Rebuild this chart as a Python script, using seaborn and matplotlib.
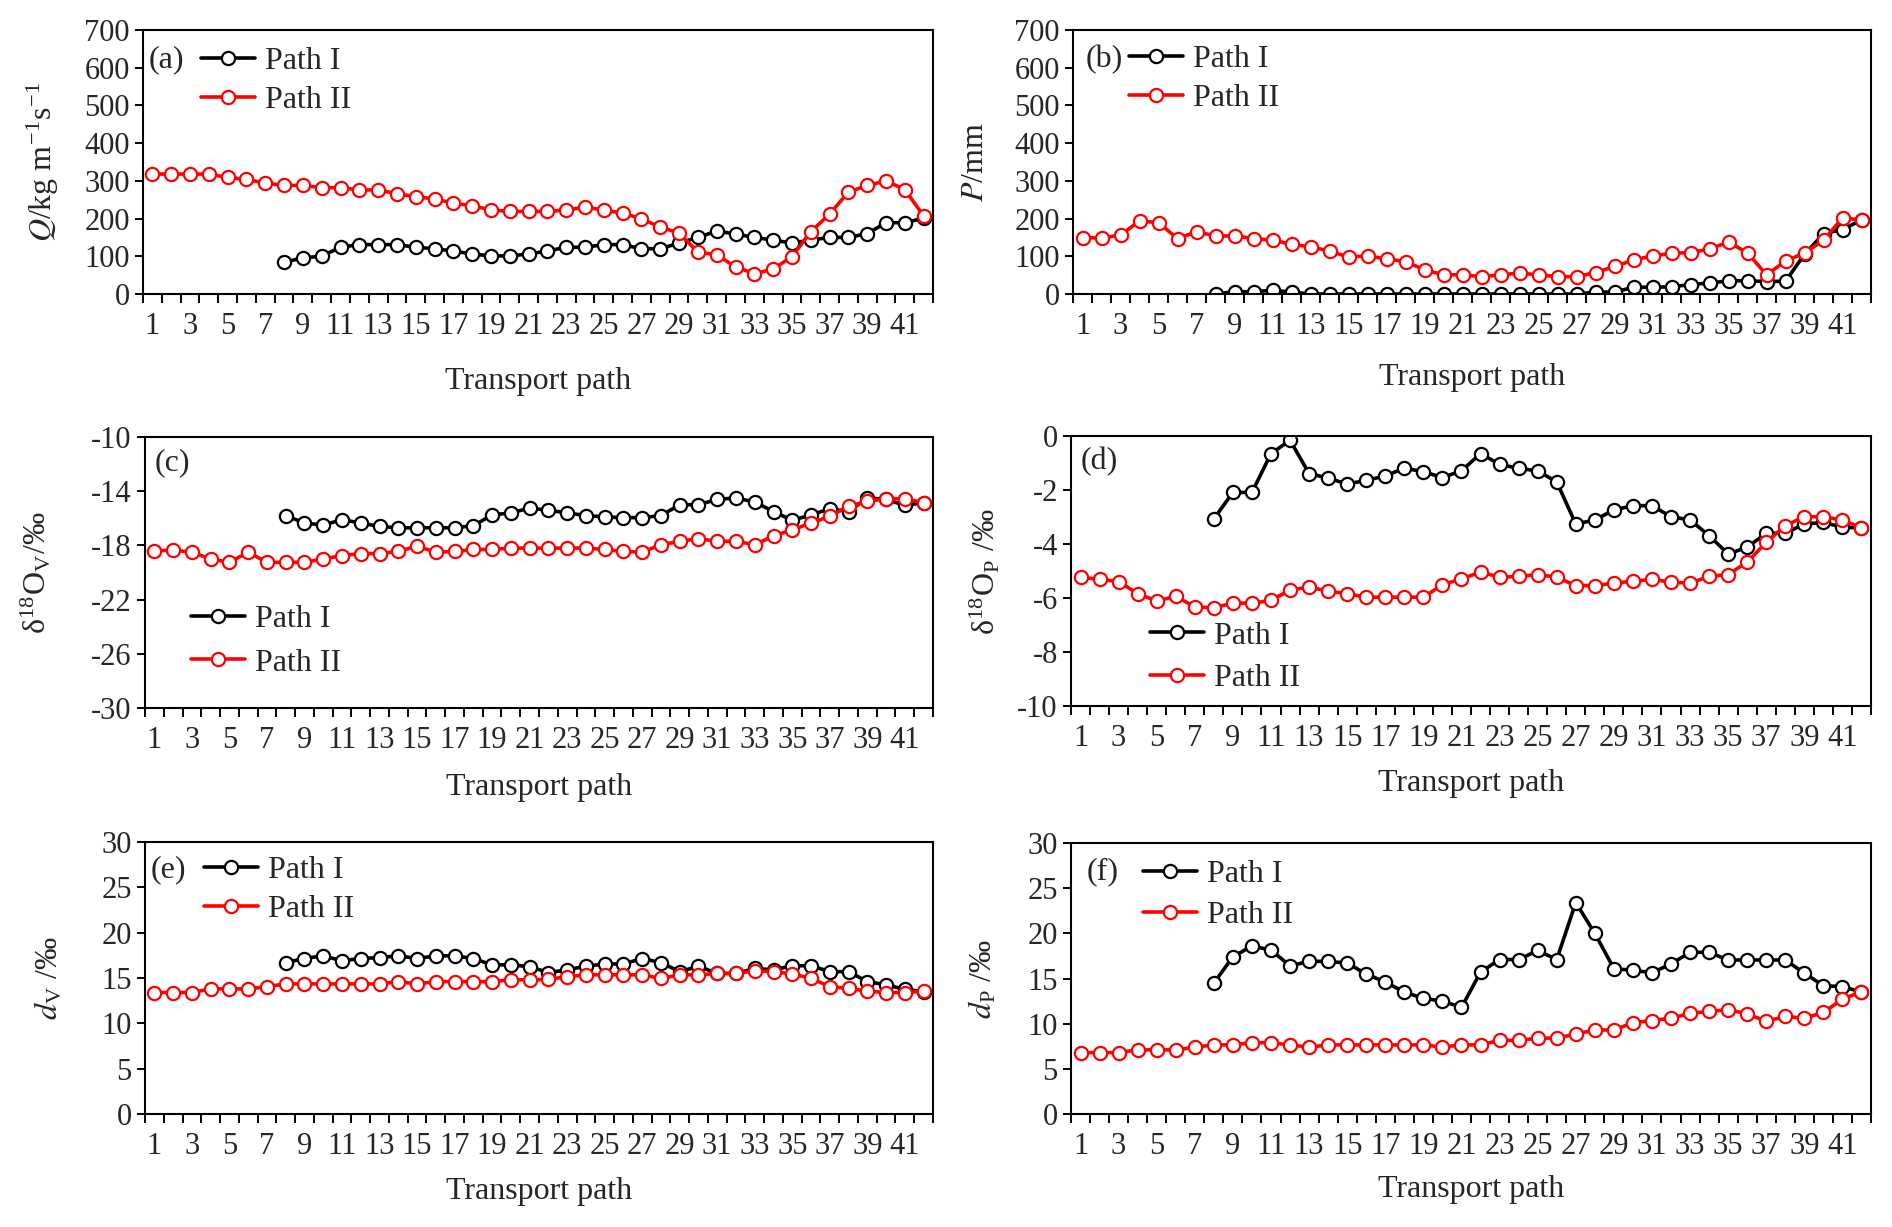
import matplotlib
matplotlib.use('Agg')
import matplotlib.pyplot as plt
import numpy as np
import seaborn as sns

# transport path index
path_all = list(range(1, 43))
path_1 = list(range(8, 43))
odd_labels = list(range(1, 42, 2))

# (a) Q, kg m-1 s-1
q_path1 = [84, 96, 100, 124, 131, 131, 131, 124, 120, 114, 106, 101, 101, 106, 114, 124, 124, 131,
           131, 120, 120, 135, 150, 167, 159, 150, 143, 135, 143, 150, 150, 160, 189, 189, 201]
q_path2 = [318, 318, 318, 318, 309, 304, 294, 288, 288, 282, 282, 276, 276, 266, 258, 252, 241, 234,
           223, 219, 219, 219, 223, 230, 223, 214, 200, 177, 162, 111, 104, 72, 54, 66, 99, 165, 212,
           270, 288, 300, 277, 207]

# (b) P, mm
p_path1 = [0, 6, 6, 10, 5, 0, 0, 0, 0, 0, 0, 0, 0, 0, 0, 0, 0, 0, 0, 0, 5, 5, 18, 18, 19, 25, 29,
           35, 35, 33, 34, 105, 160, 171, 196]
p_path2 = [149, 149, 156, 194, 189, 147, 165, 154, 154, 147, 143, 132, 125, 114, 98, 101, 93, 86,
           64, 51, 51, 46, 51, 55, 51, 46, 46, 57, 73, 90, 101, 108, 110, 119, 138, 109, 51, 87, 109,
           142, 202, 196]

# (c) d18O of vapour
ov_path1 = [-15.8, -16.35, -16.5, -16.1, -16.35, -16.6, -16.7, -16.7, -16.7, -16.7, -16.55, -15.75,
            -15.6, -15.25, -15.4, -15.6, -15.8, -15.9, -15.95, -15.95, -15.8, -15.0, -15.0, -14.6,
            -14.5, -14.8, -15.5, -16.15, -15.75, -15.3, -15.5, -14.5, -14.6, -15.05, -14.85]
ov_path2 = [-18.4, -18.35, -18.5, -19.0, -19.25, -18.5, -19.25, -19.25, -19.25, -19.0, -18.75, -18.6,
            -18.6, -18.45, -18.05, -18.5, -18.45, -18.3, -18.3, -18.2, -18.2, -18.2, -18.2, -18.2,
            -18.3, -18.45, -18.5, -17.95, -17.7, -17.5, -17.7, -17.7, -17.95, -17.3, -16.85, -16.35,
            -15.85, -15.1, -14.75, -14.55, -14.55, -14.85]

# (d) d18O of precipitation
op_path1 = [-3.07, -2.09, -2.09, -0.65, -0.16, -1.39, -1.56, -1.78, -1.64, -1.48, -1.19, -1.32, -1.54,
            -1.29, -0.65, -1.05, -1.2, -1.29, -1.7, -3.26, -3.11, -2.74, -2.58, -2.58, -2.99, -3.11,
            -3.69, -4.37, -4.12, -3.6, -3.6, -3.26, -3.2, -3.38, -3.4]
op_path2 = [-5.23, -5.31, -5.39, -5.84, -6.11, -5.94, -6.33, -6.36, -6.19, -6.19, -6.09, -5.7, -5.6,
            -5.74, -5.84, -5.97, -5.97, -5.97, -5.97, -5.51, -5.29, -5.04, -5.23, -5.2, -5.13, -5.23,
            -5.54, -5.54, -5.45, -5.38, -5.31, -5.41, -5.45, -5.2, -5.13, -4.67, -3.94, -3.32, -2.99,
            -2.99, -3.11, -3.4]

# (e) d-excess of vapour
dv_path1 = [16.7, 17.15, 17.45, 16.9, 17.15, 17.25, 17.45, 17.15, 17.45, 17.45, 17.15, 16.45, 16.45,
            16.25, 15.6, 15.9, 16.3, 16.55, 16.55, 17.15, 16.7, 15.7, 16.3, 15.5, 15.5, 16.05, 15.9,
            16.35, 16.35, 15.7, 15.7, 14.6, 14.25, 13.75, 13.5]
dv_path2 = [13.4, 13.4, 13.4, 13.8, 13.8, 13.8, 14.05, 14.35, 14.35, 14.35, 14.35, 14.35, 14.35, 14.6,
            14.35, 14.6, 14.6, 14.6, 14.6, 14.8, 14.8, 14.85, 15.15, 15.35, 15.35, 15.35, 15.35, 14.95,
            15.35, 15.35, 15.5, 15.5, 15.8, 15.7, 15.45, 14.95, 14.05, 13.85, 13.55, 13.4, 13.4, 13.55]

# (f) d-excess of precipitation
dp_path1 = [14.5, 17.4, 18.6, 18.15, 16.4, 16.9, 16.9, 16.7, 15.5, 14.6, 13.5, 12.8, 12.5, 11.8, 15.7,
            17.1, 17.1, 18.1, 17.1, 23.4, 20.0, 16.1, 15.9, 15.65, 16.6, 17.9, 17.9, 17.05, 17.05,
            17.05, 17.05, 15.6, 14.2, 14.1, 13.5]
dp_path2 = [6.8, 6.8, 6.8, 7.1, 7.1, 7.1, 7.4, 7.65, 7.65, 7.9, 7.9, 7.65, 7.4, 7.65, 7.65, 7.65, 7.65,
            7.65, 7.65, 7.4, 7.65, 7.65, 8.15, 8.15, 8.4, 8.4, 8.85, 9.3, 9.3, 10.1, 10.35, 10.6, 11.15,
            11.35, 11.55, 11.1, 10.25, 10.8, 10.6, 11.25, 12.7, 13.55]

sns.set_theme(style='ticks')
plt.rcParams['font.family'] = ['Liberation Serif', 'DejaVu Serif']
plt.rcParams['mathtext.fontset'] = 'stix'
plt.rcParams['axes.unicode_minus'] = False

W, H = 1892, 1227
fig = plt.figure(figsize=(W / 100, H / 100), dpi=100)
FS = 22

# panel: box (left, right, top, bottom) in px, data, y range, labels, legend and tag positions
panels = [
    dict(box=(143, 933, 30, 294), y1=q_path1, y2=q_path2, ylim=(0, 700), yticks=np.arange(0, 701, 100),
         ylabel=r'$Q$/kg m$^{\mathregular{-1}}$s$^{\mathregular{-1}}$', ylx=43, tag='(a)', tagxy=(149, 60),
         leg=(201, 81), xl=382, ls=0.3),
    dict(box=(1073, 1871, 30, 294), y1=p_path1, y2=p_path2, ylim=(0, 700), yticks=np.arange(0, 701, 100),
         ylabel=r'$P$/mm', ylx=975, tag='(b)', tagxy=(1086, 60), leg=(1129, 79), xl=378, ls=0.3),
    dict(box=(145, 933, 437, 708), y1=ov_path1, y2=ov_path2, ylim=(-30, -10), yticks=np.arange(-30, -9, 4),
         ylabel='δ$^{\\mathregular{18}}$O$_{\\mathregular{V}}$/‰', ylx=37, tag='(c)', tagxy=(155, 463),
         leg=(191, 641), xl=787, ls=0.45),
    dict(box=(1071, 1871, 436, 706), y1=op_path1, y2=op_path2, ylim=(-10, 0), yticks=np.arange(-10, 1, 2),
         ylabel='δ$^{\\mathregular{18}}$O$_{\\mathregular{P}}$ /‰', ylx=986, tag='(d)', tagxy=(1081, 462),
         leg=(1150, 657), xl=783, ls=0.4),
    dict(box=(145, 933, 842, 1114), y1=dv_path1, y2=dv_path2, ylim=(0, 30), yticks=np.arange(0, 31, 5),
         ylabel=r'$d_{\mathregular{V}}$ /‰', ylx=49, tag='(e)', tagxy=(151, 870), leg=(204, 890), xl=1192,
         ls=0.3),
    dict(box=(1071, 1871, 843, 1114), y1=dp_path1, y2=dp_path2, ylim=(0, 30), yticks=np.arange(0, 31, 5),
         ylabel=r'$d_{\mathregular{P}}$ /‰', ylx=983, tag='(f)', tagxy=(1087, 872), leg=(1143, 895), xl=1190,
         ls=0.35),
]

for p in panels:
    l, r, t, b = p['box']
    ax = fig.add_axes([l / W, 1 - b / H, (r - l) / W, (b - t) / H])

    sns.lineplot(x=path_1, y=p['y1'], ax=ax, color='black', lw=2.6, marker='o', ms=9.5,
                 mfc='white', mec='black', mew=1.6, label='Path I')
    sns.lineplot(x=path_all, y=p['y2'], ax=ax, color='#ff0000', lw=2.6, marker='o', ms=9.5,
                 mfc='white', mec='#ff0000', mew=1.6, label='Path II')

    ax.set_xlim(0.5, 42.5)
    ax.set_ylim(*p['ylim'])
    ax.set_yticks(p['yticks'])
    ax.set_yticklabels([str(v) for v in p['yticks']], fontsize=FS)
    ax.set_xticks(np.arange(0.5, 43, 1))
    ax.set_xticklabels([])
    ax.set_xticks(odd_labels, minor=True)
    ax.set_xticklabels([str(v) for v in odd_labels], minor=True, fontsize=FS)
    ax.tick_params(axis='x', which='major', direction='out', length=6.5, width=1.4, color='black')
    ax.tick_params(axis='x', which='minor', length=0, pad=13)
    ax.tick_params(axis='y', direction='out', length=5.5, width=1.4, color='black', pad=4)
    for s in ax.spines.values():
        s.set_linewidth(1.5)
        s.set_color('black')

    ax.set_xlabel('Transport path', fontsize=FS + 1, va='center')
    ax.xaxis.set_label_coords(0.5, -(p['xl'] - b) / (b - t))
    ax.set_ylabel(p['ylabel'], fontsize=FS + 1, va='center')
    ax.yaxis.set_label_coords((p['ylx'] - l) / (r - l), 0.5)

    fig.text(p['tagxy'][0] / W, 1 - p['tagxy'][1] / H, p['tag'], fontsize=FS + 1,
             ha='left', va='center')

    ax.legend(loc='center left', bbox_to_anchor=(p['leg'][0] / W, 1 - p['leg'][1] / H),
              bbox_transform=fig.transFigure, frameon=False, fontsize=FS + 1, borderpad=0,
              borderaxespad=0, handlelength=1.7, handletextpad=0.3, labelspacing=p['ls'])

fig.savefig('out.png', dpi=100, facecolor='white')
